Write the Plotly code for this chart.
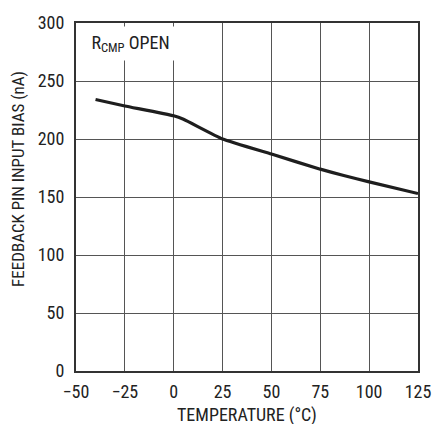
import plotly.graph_objects as go

temperature = [-40, -25, 0, 5, 25, 50, 75, 87, 100, 125]
bias_na = [234, 228.5, 220, 217, 200, 187, 174, 168.5, 163, 153]

x_ticks = [-50, -25, 0, 25, 50, 75, 100, 125]
x_tick_labels = ["\u221250", "\u221225", "0", "25", "50", "75", "100", "125"]
y_ticks = [0, 50, 100, 150, 200, 250, 300]

FONT = "Liberation Sans Narrow, Roboto Condensed, Arial Narrow, Liberation Sans, sans-serif"
W, H = 443, 424
ML, MR, MT, MB = 76, 15, 19, 53

fig = go.Figure()
fig.add_trace(go.Scatter(
    x=temperature, y=bias_na, mode="lines",
    line=dict(color="#1e1e1e", width=3.2, shape="spline", smoothing=0.4),
    showlegend=False, hoverinfo="skip",
))

fig.update_layout(
    width=W, height=H,
    margin=dict(l=ML, r=MR, t=MT, b=MB),
    paper_bgcolor="white", plot_bgcolor="white",
    font=dict(family=FONT, size=17, color="#222"),
    xaxis=dict(
        range=[-50, 125], tickvals=x_ticks, ticktext=x_tick_labels,
        showgrid=True, gridcolor="#555", gridwidth=1.2,
        showline=True, linecolor="#333", linewidth=2, mirror=True,
        ticks="outside", ticklen=3, tickcolor="rgba(0,0,0,0)", zeroline=False,
        tickfont=dict(family=FONT, size=18),
    ),
    yaxis=dict(
        range=[0, 300], tickvals=y_ticks,
        showgrid=True, gridcolor="#555", gridwidth=1.2,
        showline=True, linecolor="#333", linewidth=2, mirror=True,
        ticks="outside", ticklen=6, tickcolor="rgba(0,0,0,0)", zeroline=False,
        tickfont=dict(family=FONT, size=18),
    ),
    annotations=[
        dict(
            x=0, y=1, xref="paper", yref="paper", xanchor="left", yanchor="top",
            xshift=2, yshift=-3, width=103, height=33, align="center", valign="middle",
            text="R<sub>CMP</sub> OPEN", showarrow=False,
            font=dict(family=FONT, size=18, color="#222"),
            bgcolor="white", borderpad=0,
        ),
        dict(
            x=0.5, y=-(415 - (H - MB)) / (H - MT - MB), xref="paper", yref="paper",
            xanchor="center", yanchor="middle", borderpad=0,
            text="TEMPERATURE (\u00b0C)", showarrow=False,
            font=dict(family=FONT, size=18, color="#222"),
        ),
        dict(
            x=-(ML - 17) / (W - ML - MR), y=((H - MB) - 177) / (H - MT - MB),
            xref="paper", yref="paper",
            xanchor="center", yanchor="middle", textangle=-90,
            text="FEEDBACK PIN INPUT BIAS (nA)", showarrow=False,
            font=dict(family=FONT, size=17, color="#222"),
        ),
    ],
)

fig.write_html("out.html")
